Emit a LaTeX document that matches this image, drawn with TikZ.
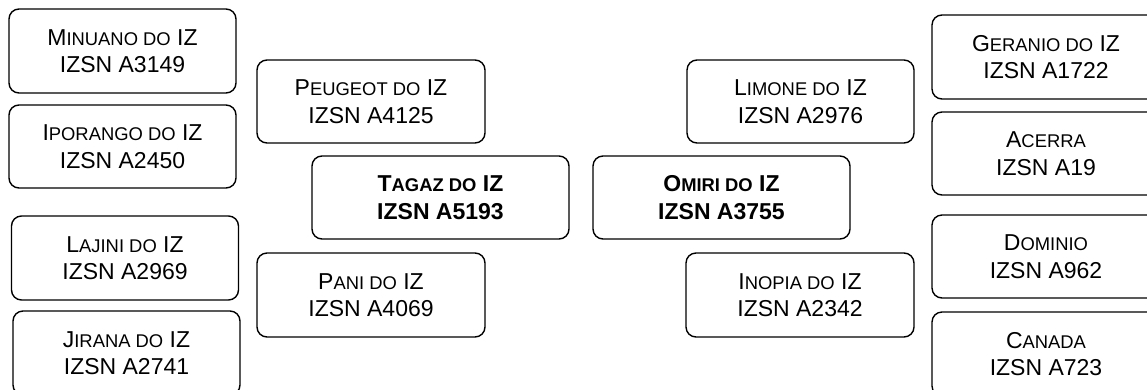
\documentclass[tikz,border=0pt]{standalone}
\usepackage{fontspec}
\setmainfont{Liberation Sans}
\newcommand\smc[1]{{\fontsize{18.4}{27.6}\selectfont #1}}
\tikzset{
  box/.style={draw=black, line width=1.4pt, rounded corners=10pt, fill=white,
    align=center, inner sep=0pt, minimum width=227pt, minimum height=84pt,
    font=\fontsize{23}{27.6}\selectfont},
  mainbox/.style={box, minimum width=257pt, minimum height=83pt, font=\fontsize{23}{27.6}\selectfont\bfseries}
}
\begin{document}
\begin{tikzpicture}[x=1pt,y=-1pt]
\useasboundingbox (0,0) rectangle (1147,389);
\clip (0,0) rectangle (1147,389);
\fill[white] (0,0) rectangle (1147,389);
% left column
\node[box] (minuano) at (122.5,51) {M\smc{INUANO DO} IZ\\IZSN A3149};
\node[box, minimum height=83pt] (iporango) at (122.5,146.5) {I\smc{PORANGO DO} IZ\\IZSN A2450};
\node[box] (lajini) at (125,258) {L\smc{AJINI DO} IZ\\IZSN A2969};
\node[box] (jirana) at (126.5,353) {J\smc{IRANA DO} IZ\\IZSN A2741};
% inner left
\node[box, minimum width=228pt, minimum height=83pt] (peugeot) at (371,101.5) {P\smc{EUGEOT DO} IZ\\IZSN A4125};
\node[box, minimum width=228pt] (pani) at (371,295) {P\smc{ANI DO} IZ\\IZSN A4069};
% centre
\node[mainbox] (tagaz) at (440.5,197.5) {T\smc{AGAZ DO} IZ\\IZSN A5193};
\node[mainbox] (omiri) at (721.5,197.5) {O\smc{MIRI DO} IZ\\IZSN A3755};
% inner right
\node[box, minimum height=83pt] (limone) at (800.5,101.5) {L\smc{IMONE DO} IZ\\IZSN A2976};
\node[box, minimum width=228pt] (inopia) at (800,295) {I\smc{NOPIA DO} IZ\\IZSN A2342};
% right column
\node[box, minimum width=228pt] (geranio) at (1046,57) {G\smc{ERANIO DO} IZ\\IZSN A1722};
\node[box, minimum width=228pt, minimum height=83pt] (acerra) at (1046,153.5) {A\smc{CERRA}\\IZSN A19};
\node[box, minimum width=228pt, minimum height=83pt] (dominio) at (1046,256.5) {D\smc{OMINIO}\\IZSN A962};
\node[box, minimum width=228pt] (canada) at (1046,354) {C\smc{ANADA}\\IZSN A723};
\end{tikzpicture}
\end{document}
